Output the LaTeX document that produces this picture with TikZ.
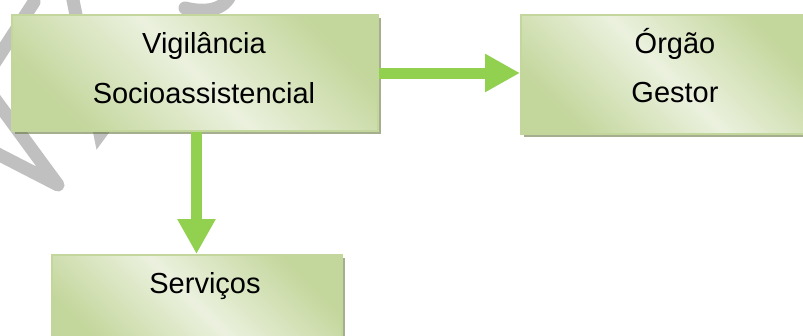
\documentclass[tikz,border=0pt]{standalone}
\usepackage{fontspec}
\setmainfont{Liberation Sans}
\usetikzlibrary{arrows.meta}
\definecolor{lightg}{HTML}{EBF1DE}
\definecolor{darkg}{HTML}{C3D69B}
\definecolor{edgeg}{HTML}{C3D69B}
\definecolor{shadowg}{HTML}{697844}
\definecolor{arrowg}{HTML}{92D050}
\definecolor{wmark}{HTML}{C0C0C0}
\begin{document}
\begin{tikzpicture}[x=1pt,y=-1pt,
  box/.style={draw=edgeg, line width=2pt, shading=axis, top color=darkg, bottom color=darkg, middle color=lightg, shading angle=-45, inner sep=0pt, anchor=north west},
  shadowbox/.style={fill=shadowg, fill opacity=0.6},
  flow/.style={draw=arrowg, line width=11pt, -{Triangle[length=35pt,width=36pt]}},
  lbl/.style={font=\fontsize{29}{50}\selectfont, anchor=base, inner sep=0pt},
  wm/.style={draw=wmark, line width=13pt, line cap=round, line join=round}]
\useasboundingbox (0,0) rectangle (803,335);
\clip (0,0) rectangle (803,335);
% watermark
\draw[wm] (34,2) -- (-10,70);
\draw[wm] (-10,150) -- (58,185) -- (-8,95);
\draw[wm, line join=miter] (72,-5) -- (100,134) -- (125,100);
\draw[wm] (185,8) .. controls (210,14) and (228,8) .. (232,-10);
% shadows
\fill[shadowbox] (15,18) rectangle (381,134);
\fill[shadowbox] (524,18) rectangle (816,137);
\fill[shadowbox] (55,258) rectangle (345,350);
% boxes
\node[box, minimum width=366pt, minimum height=116pt] (vig) at (11,14) {};
\node[box, minimum width=292pt, minimum height=119pt] (org) at (520,14) {};
\node[box, minimum width=290pt, minimum height=100pt] (serv) at (51,254) {};
% texts
\node[lbl] (t1) at (204,53) {Vigilância};
\node[lbl] (t2) at (204,103) {Socioassistencial};
\node[lbl] (t3) at (675,53) {Órgão};
\node[lbl] (t4) at (675,102) {Gestor};
\node[lbl] (t5) at (205,293) {Serviços};
% connectors
\draw[flow] (vig.east) -- (vig.east -| org.west);
\draw[flow] ([xshift=1.5pt]vig.south) -- ([xshift=1.5pt]vig.south |- serv.north);
\end{tikzpicture}
\end{document}
